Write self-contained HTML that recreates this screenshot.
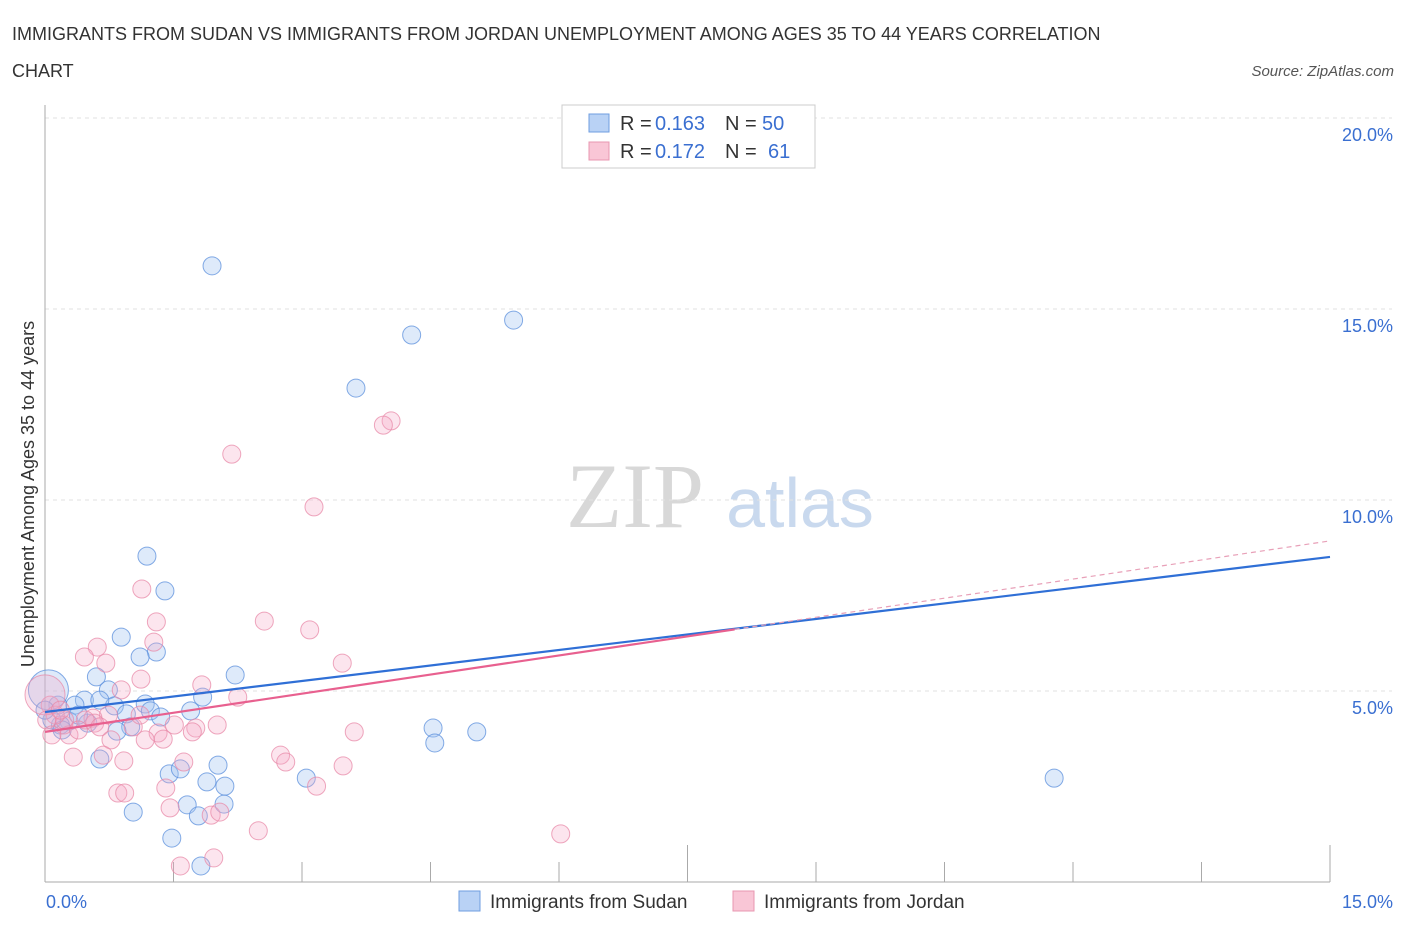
<!DOCTYPE html>
<html><head><meta charset="utf-8"><style>
body{margin:0;background:#fff;font-family:"Liberation Sans",sans-serif;}
svg text{font-family:"Liberation Sans",sans-serif;}
</style></head><body>
<svg id="chart" width="1406" height="930" xmlns="http://www.w3.org/2000/svg">
<text x="12" y="40" font-size="18" fill="#333">IMMIGRANTS FROM SUDAN VS IMMIGRANTS FROM JORDAN UNEMPLOYMENT AMONG AGES 35 TO 44 YEARS CORRELATION</text>
<text x="12" y="77" font-size="18" fill="#333">CHART</text>
<text x="1394" y="76" font-size="15" fill="#555" font-style="italic" text-anchor="end">Source: ZipAtlas.com</text>
<text x="635" y="527" font-size="92" fill="#d8d8d8" text-anchor="middle" style="font-family:'Liberation Serif',serif">ZIP</text>
<text x="800" y="527" font-size="70" fill="#c9d9ee" text-anchor="middle">atlas</text>
<g id="grid"></g>
<g id="axes"></g>
<g id="points"></g>
<g id="trends"></g>
<text transform="translate(34,494) rotate(-90)" font-size="18" fill="#333" text-anchor="middle">Unemployment Among Ages 35 to 44 years</text>
<g>
<rect x="562" y="105" width="253" height="63" fill="#fff" stroke="#ccc"/>
<rect x="589" y="114" width="20" height="18" fill="#b9d2f5" stroke="#6f9ee0"/>
<rect x="589" y="142" width="20" height="18" fill="#f9c6d6" stroke="#e897b0"/>
<text x="620" y="130" font-size="20" fill="#333">R =</text>
<text x="655" y="130" font-size="20" fill="#3a6fd1">0.163</text>
<text x="725" y="130" font-size="20" fill="#333">N =</text>
<text x="762" y="130" font-size="20" fill="#3a6fd1">50</text>
<text x="620" y="158" font-size="20" fill="#333">R =</text>
<text x="655" y="158" font-size="20" fill="#3a6fd1">0.172</text>
<text x="725" y="158" font-size="20" fill="#333">N =</text>
<text x="768" y="158" font-size="20" fill="#3a6fd1">61</text>
</g>
<g>
<rect x="459" y="891" width="21" height="20" fill="#b9d2f5" stroke="#6f9ee0"/>
<text x="490" y="908" font-size="19" fill="#333">Immigrants from Sudan</text>
<rect x="733" y="891" width="21" height="20" fill="#f9c6d6" stroke="#e897b0"/>
<text x="764" y="908" font-size="19" fill="#333">Immigrants from Jordan</text>
</g>
</svg>
<script>
const yTicks=[5,10,15,20];
const yTickLabels=["5.0%","10.0%","15.0%","20.0%"];
const xTickLabels=["0.0%","15.0%"];
const sudanX=[1.95,5.47,4.28,3.63,1.19,1.40,0.89,1.30,1.11,2.22,0.60,0.74,0.46,1.84,1.17,0.81,0.15,0.35,1.70,0.95,1.23,1.35,1.00,0.84,0.28,0.18,4.53,5.04,4.55,2.02,1.45,1.58,0.64,1.89,2.10,3.05,11.78,1.66,2.09,1.03,1.79,1.48,1.82,0.08,0.04,0.50,0.20,0.39,0.64,0.0];
const sudanY=[16.13,14.71,14.32,12.93,8.53,7.62,6.41,6.02,5.89,5.42,5.37,5.03,4.76,4.84,4.66,4.61,4.63,4.63,4.48,4.40,4.48,4.32,4.06,3.95,4.21,4.11,4.03,3.93,3.64,3.06,2.83,2.96,3.22,2.62,2.51,2.72,2.72,2.02,2.04,1.83,1.73,1.15,0.42,4.24,5.03,4.16,3.98,4.37,4.76,4.5];
const jordanX=[4.04,3.95,2.18,3.14,1.13,2.56,1.30,3.09,0.61,1.27,0.46,0.71,3.47,1.12,1.83,0.89,2.25,0.06,0.74,0.56,1.51,0.58,0.22,1.76,2.01,1.03,0.77,1.72,1.32,3.61,1.17,0.28,1.38,2.75,0.68,0.33,1.62,0.92,2.81,3.48,1.41,3.17,0.85,0.93,1.46,1.94,2.04,2.49,6.02,1.97,1.58,0.23,0.12,0.0,0.02,0.47,0.39,0.18,1.11,0.64,0.08];
const jordanY=[12.07,11.96,11.20,9.82,7.67,6.83,6.81,6.60,6.15,6.28,5.89,5.73,5.73,5.31,5.16,5.03,4.84,4.63,4.37,4.29,4.11,4.16,4.11,4.03,4.11,4.06,3.72,3.93,3.90,3.93,3.72,3.85,3.74,3.32,3.32,3.27,3.14,3.17,3.14,3.04,2.46,2.51,2.33,2.33,1.94,1.75,1.83,1.34,1.26,0.63,0.42,4.24,4.37,4.9,4.24,4.24,3.98,4.50,4.37,4.06,3.85];
const sudanTrend=[4.45,8.51];
const jordanTrend=[3.93,8.93];
const X0=45,X1=1330,Y0=882,PXY=38.2;
const sx=v=>X0+v/15*(X1-X0);
const sy=v=>Y0-v*PXY;
const NS="http://www.w3.org/2000/svg";
function mk(t,a,p){const e=document.createElementNS(NS,t);for(const k in a)e.setAttribute(k,a[k]);p.appendChild(e);return e;}
const grid=document.getElementById('grid'),axes=document.getElementById('axes'),pts=document.getElementById('points'),tr=document.getElementById('trends');
yTicks.forEach((v,i)=>{
 const l=mk('line',{x1:X0,x2:1392,y1:sy(v),y2:sy(v),stroke:'#e2e2e2','stroke-dasharray':'4,4'},grid);
 
 
 const t=mk('text',{x:1393,y:sy(v)+23,'font-size':18,fill:'#3a6fd1','text-anchor':'end'},axes);
 t.textContent=yTickLabels[i];
 
 
});
const ya=mk('line',{x1:X0,x2:X0,y1:105,y2:Y0,stroke:'#aaa'},axes);


const xa=mk('line',{x1:X0,x2:X1,y1:Y0,y2:Y0,stroke:'#aaa'},axes);


for(let i=1;i<=10;i++){
 const x=X0+i*(X1-X0)/10;
 const tk=mk('line',{x1:x,x2:x,y1:(i==5||i==10)?845:862,y2:Y0,stroke:'#aaa'},axes);
 
 
}
[[X0+1,'start',0],[1393,'end',1]].forEach(([x,a,i])=>{
 const t=mk('text',{x:x,y:908,'font-size':18,fill:'#3a6fd1','text-anchor':a},axes);
 t.textContent=xTickLabels[i];
 
 
});
function drawPts(X,Y,fill,stroke,name){
 X.forEach((v,i)=>{
  const big=(v<0.05&&Y[i]>4.7);
  const c=mk('circle',{cx:sx(v),cy:sy(Y[i]),r:big?20:9,fill:fill,stroke:stroke,'stroke-width':1,'stroke-opacity':0.75},pts);
  
  
 });
}
drawPts(sudanX,sudanY,'rgba(160,195,240,0.35)','#5b8fdc','sudan-point');
drawPts(jordanX,jordanY,'rgba(245,170,198,0.3)','#e88aa8','jordan-point');
const bl=mk('line',{x1:sx(0),y1:sy(sudanTrend[0]),x2:sx(15),y2:sy(sudanTrend[1]),stroke:'#2f6fd6','stroke-width':2.2},tr);


const xm=8.05,ym=jordanTrend[0]+(jordanTrend[1]-jordanTrend[0])*xm/15;
const pl=mk('line',{x1:sx(0),y1:sy(jordanTrend[0]),x2:sx(xm),y2:sy(ym),stroke:'#e8608f','stroke-width':2.2},tr);


const pd=mk('line',{x1:sx(xm),y1:sy(ym),x2:sx(15),y2:sy(jordanTrend[1]),stroke:'#e8a0b8','stroke-width':1.2,'stroke-dasharray':'5,4'},tr);


</script>
</body></html>
